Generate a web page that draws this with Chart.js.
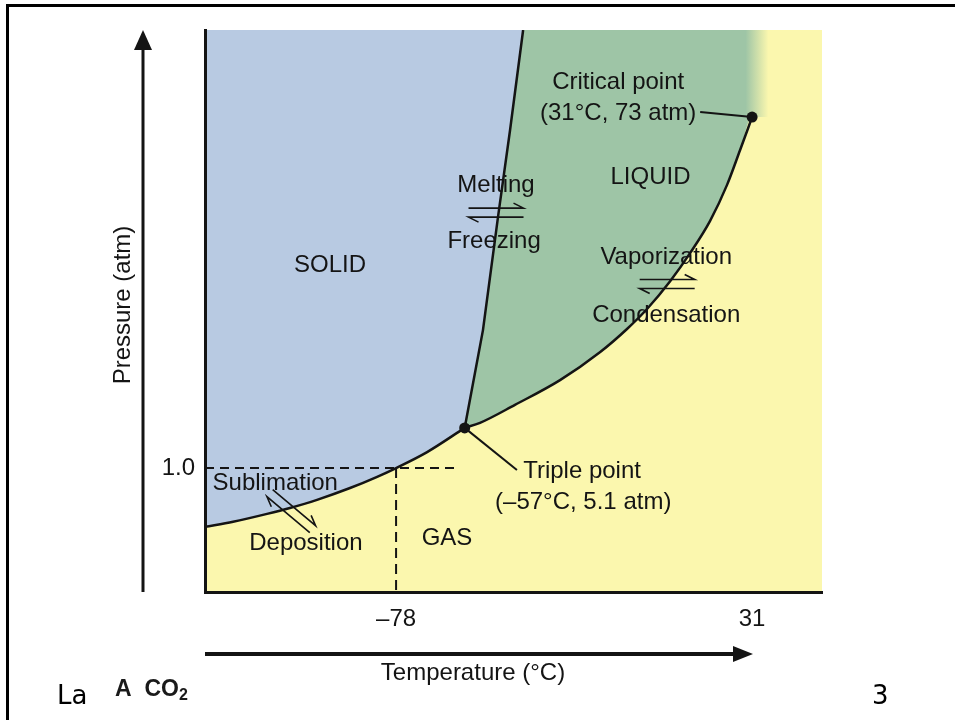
<!DOCTYPE html>
<html>
<head>
<meta charset="utf-8">
<title>CO2 phase diagram</title>
<script src="https://cdn.jsdelivr.net/npm/chart.js@4.4.1/dist/chart.umd.min.js"></script>
<style>
  html, body { margin: 0; padding: 0; background: #fff; }
  #slide { position: relative; width: 955px; height: 720px; overflow: hidden; }
  #frame { position: absolute; left: 6px; top: 4px; width: 960px; height: 730px;
           border-left: 3px solid #000; border-top: 3px solid #000; }
  #chart { position: absolute; left: 0; top: 0; }
  .note { position: absolute; color: #000; line-height: 1; white-space: nowrap; }
  #footLeft { left: 57px; top: 680px; font: 26px "DejaVu Sans", sans-serif; }
  #panel { left: 115px; top: 675px; font: bold 23px "Liberation Sans", Arial, sans-serif; color: #1a1a1a; }
  #panel sub { font-size: 16px; vertical-align: -4px; }
  #pageNo { left: 872px; top: 680px; font: 26px "DejaVu Sans", sans-serif; }
</style>
</head>
<body>
<div id="slide">
  <div id="frame"></div>
  <canvas id="chart" width="955" height="720"></canvas>
  <div class="note" id="footLeft">La</div>
  <div class="note" id="panel">A&nbsp;&nbsp;CO<sub>2</sub></div>
  <div class="note" id="pageNo">3</div>
</div>
<script>
// Phase diagram of CO2 (schematic). Temperature axis in °C;
// the pressure axis is not to scale, so y is the relative height of the diagram (0-100).
const xRange = [-136.5, 52.4];
const yRange = [0, 100];
const xTickValues = [-78, 31];
const xTickLabels = ['–78', '31'];
const yTickValues = [22.06];
const yTickLabels = ['1.0'];

// solid / gas boundary
const sublimationT = [-136.5, -127.9, -117.5, -110.5, -102.2, -92.1, -83.8, -78, -68.5, -57];
const sublimationP = [11.6, 12.5, 13.9, 14.95, 16.4, 18.5, 20.5, 22.06, 24.9, 29.2];
// solid / liquid boundary
const meltingT = [-57, -51.4, -46.8, -43.1, -39.1];
const meltingP = [29.2, 46.6, 66.7, 82.2, 100];
// liquid / gas boundary
const vaporT = [-57, -52.3, -41.6, -27.8, -15.5, -7.3, -1.1, 5.9, 12.0, 18.1, 23.3, 27.3, 31];
const vaporP = [29.2, 30.1, 33.3, 37.7, 42.7, 46.8, 50.4, 55.3, 60.3, 66.0, 72.4, 78.6, 84.5];

const triplePoint = [-57, 29.2];
const criticalPoint = [31, 84.5];
const oneAtmLevel = 22.06;
const oneAtmT = -78;
const dashEndT = -59.3;
const liquidEdgeT = 36;

const colors = {
    solid: '#b8cae2',
    liquid: '#9ec5a6',
    gas: '#fbf7ae',
    ink: '#141414'
};
const labelFont = '24px "Liberation Sans", Arial, Helvetica, sans-serif';

// texts inside the plot, placed in data coordinates
const annotations = [
    { text: 'SOLID', x: -98.2, y: 58.2 },
    { text: 'Melting', x: -47.4, y: 72.4 },
    { text: 'Freezing', x: -48.0, y: 62.3 },
    { text: 'LIQUID', x: -0.1, y: 73.7 },
    { text: 'Critical point', x: -10.0, y: 90.7 },
    { text: '(31°C, 73 atm)', x: -10.0, y: 85.2 },
    { text: 'Vaporization', x: 4.7, y: 59.6 },
    { text: 'Condensation', x: 4.7, y: 49.3 },
    { text: 'Triple point', x: -39.1, y: 21.4, align: 'left' },
    { text: '(–57°C, 5.1 atm)', x: -47.7, y: 16.0, align: 'left' },
    { text: 'Sublimation', x: -115.0, y: 19.4 },
    { text: 'Deposition', x: -105.6, y: 8.7 },
    { text: 'GAS', x: -62.4, y: 9.6 }
];
const leaders = [
    { from: [15.1, 85.4], to: criticalPoint },
    { from: triplePoint, to: [-41.0, 21.7] }
];
// equilibrium half-arrows: centre in data units, length in px, angle in degrees
const eqArrows = [
    { x: -47.4, y: 67.5, len: 55, angle: 0 },
    { x: 5.0, y: 54.8, len: 55, angle: 0 },
    { x: -110.1, y: 14.4, len: 56, angle: 40 }
];

const pts = (xs, ys) => xs.map((x, i) => ({ x: x, y: ys[i] }));

const phaseLabels = {
    id: 'phaseLabels',
    afterDatasetsDraw(chart) {
        const { ctx, scales: { x, y } } = chart;
        ctx.save();
        ctx.fillStyle = colors.ink;
        ctx.strokeStyle = colors.ink;
        ctx.font = labelFont;
        ctx.textBaseline = 'middle';
        annotations.forEach(a => {
            ctx.textAlign = a.align || 'center';
            ctx.fillText(a.text, x.getPixelForValue(a.x), y.getPixelForValue(a.y));
        });

        ctx.lineWidth = 2;
        leaders.forEach(l => {
            ctx.beginPath();
            ctx.moveTo(x.getPixelForValue(l.from[0]), y.getPixelForValue(l.from[1]));
            ctx.lineTo(x.getPixelForValue(l.to[0]), y.getPixelForValue(l.to[1]));
            ctx.stroke();
        });

        ctx.lineWidth = 1.6;
        eqArrows.forEach(e => {
            const h = e.len / 2, s = 4.5;
            ctx.save();
            ctx.translate(x.getPixelForValue(e.x), y.getPixelForValue(e.y));
            ctx.rotate(e.angle * Math.PI / 180);
            ctx.beginPath();
            ctx.moveTo(-h, -s); ctx.lineTo(h, -s); ctx.lineTo(h - 10, -s - 5);
            ctx.moveTo(h, s); ctx.lineTo(-h, s); ctx.lineTo(-h + 10, s + 5);
            ctx.stroke();
            ctx.restore();
        });
        ctx.restore();
    }
};

// textbook style axes: arrows beside the plot with their titles
const axisArrows = {
    id: 'axisArrows',
    beforeDraw(chart) {
        const { ctx, chartArea: a } = chart;
        ctx.save();
        ctx.fillStyle = colors.gas;
        ctx.fillRect(a.left, a.top, a.right - a.left, a.bottom - a.top);
        ctx.restore();
    },
    afterDraw(chart) {
        const { ctx, chartArea: a } = chart;
        ctx.save();
        ctx.strokeStyle = colors.ink;
        ctx.fillStyle = colors.ink;

        const ax = a.left - 62;
        ctx.lineWidth = 3;
        ctx.beginPath();
        ctx.moveTo(ax, a.bottom);
        ctx.lineTo(ax, a.top + 15);
        ctx.stroke();
        ctx.beginPath();
        ctx.moveTo(ax, a.top);
        ctx.lineTo(ax - 9, a.top + 20);
        ctx.lineTo(ax + 9, a.top + 20);
        ctx.closePath();
        ctx.fill();

        const ay = a.bottom + 62;
        const tip = a.left + 548;
        ctx.lineWidth = 4;
        ctx.beginPath();
        ctx.moveTo(a.left, ay);
        ctx.lineTo(tip - 15, ay);
        ctx.stroke();
        ctx.beginPath();
        ctx.moveTo(tip, ay);
        ctx.lineTo(tip - 20, ay - 8);
        ctx.lineTo(tip - 20, ay + 8);
        ctx.closePath();
        ctx.fill();

        ctx.font = labelFont;
        ctx.textAlign = 'center';
        ctx.textBaseline = 'middle';
        ctx.fillText('Temperature (°C)', a.left + 268, ay + 19);

        ctx.translate(ax - 20, (a.top + a.bottom) / 2 - 6);
        ctx.rotate(-Math.PI / 2);
        ctx.fillText('Pressure (atm)', 0, 0);
        ctx.restore();
    }
};

const tickLabel = (values, labels) => v => {
    const i = values.indexOf(v);
    return i >= 0 ? labels[i] : '';
};

new Chart(document.getElementById('chart').getContext('2d'), {
    type: 'line',
    data: {
        datasets: [
            {
                data: [{ x: triplePoint[0], y: triplePoint[1] }, { x: criticalPoint[0], y: criticalPoint[1] }],
                showLine: false,
                pointRadius: 5.5,
                pointBackgroundColor: colors.ink,
                pointBorderWidth: 0,
                order: 0
            },
            {
                data: pts(sublimationT, sublimationP),
                borderColor: colors.ink, borderWidth: 2.5,
                pointRadius: 0, cubicInterpolationMode: 'monotone',
                order: 1
            },
            {
                data: pts(meltingT, meltingP),
                borderColor: colors.ink, borderWidth: 2.5,
                pointRadius: 0,
                order: 1
            },
            {
                data: pts(vaporT, vaporP),
                borderColor: colors.ink, borderWidth: 2.5,
                pointRadius: 0, cubicInterpolationMode: 'monotone',
                order: 1
            },
            {
                data: [{ x: xRange[0], y: oneAtmLevel }, { x: dashEndT, y: oneAtmLevel }],
                borderColor: colors.ink, borderWidth: 2, borderDash: [9, 6],
                pointRadius: 0,
                order: 2
            },
            {
                data: [{ x: oneAtmT, y: oneAtmLevel }, { x: oneAtmT, y: yRange[0] }],
                borderColor: colors.ink, borderWidth: 2, borderDash: [10, 6],
                pointRadius: 0,
                order: 2
            },
            {
                // solid region: everything above sublimation + melting curves
                data: pts(sublimationT.concat(meltingT.slice(1)), sublimationP.concat(meltingP.slice(1))),
                borderWidth: 0, pointRadius: 0,
                fill: 'end',
                backgroundColor: colors.solid,
                order: 8
            },
            {
                // liquid region: above the vaporization curve, fading out past the critical point
                data: pts(vaporT.concat([liquidEdgeT]), vaporP.concat([criticalPoint[1]])),
                borderWidth: 0, pointRadius: 0,
                cubicInterpolationMode: 'monotone',
                fill: 'end',
                backgroundColor: c => {
                    const chart = c.chart;
                    if (!chart.chartArea) return colors.liquid;
                    const xs = chart.scales.x;
                    const g = chart.ctx.createLinearGradient(xs.getPixelForValue(29), 0, xs.getPixelForValue(liquidEdgeT), 0);
                    g.addColorStop(0, colors.liquid);
                    g.addColorStop(1, colors.gas);
                    return g;
                },
                order: 9
            }
        ]
    },
    options: {
        responsive: false,
        animation: false,
        layout: { padding: { left: 100, top: 30, right: 133, bottom: 68 } },
        plugins: {
            legend: { display: false },
            tooltip: { enabled: false }
        },
        scales: {
            x: {
                type: 'linear',
                min: xRange[0],
                max: xRange[1],
                grid: { display: false, drawTicks: false },
                // border drawn above the filled regions
                border: { color: colors.ink, width: 3, z: 1 },
                afterBuildTicks: s => { s.ticks = xTickValues.map(v => ({ value: v })); },
                afterFit: s => { s.height = 60; },
                ticks: {
                    padding: 13,
                    color: colors.ink,
                    font: { size: 24, family: '"Liberation Sans", Arial, sans-serif' },
                    maxRotation: 0,
                    autoSkip: false,
                    callback: tickLabel(xTickValues, xTickLabels)
                }
            },
            y: {
                type: 'linear',
                min: yRange[0],
                max: yRange[1],
                grid: { display: false, drawTicks: false },
                border: { color: colors.ink, width: 3, z: 1 },
                afterBuildTicks: s => { s.ticks = yTickValues.map(v => ({ value: v })); },
                afterFit: s => { s.width = 105; },
                ticks: {
                    padding: 10,
                    color: colors.ink,
                    font: { size: 24, family: '"Liberation Sans", Arial, sans-serif' },
                    autoSkip: false,
                    callback: tickLabel(yTickValues, yTickLabels)
                }
            }
        }
    },
    plugins: [axisArrows, phaseLabels]
});
</script>
</body>
</html>
